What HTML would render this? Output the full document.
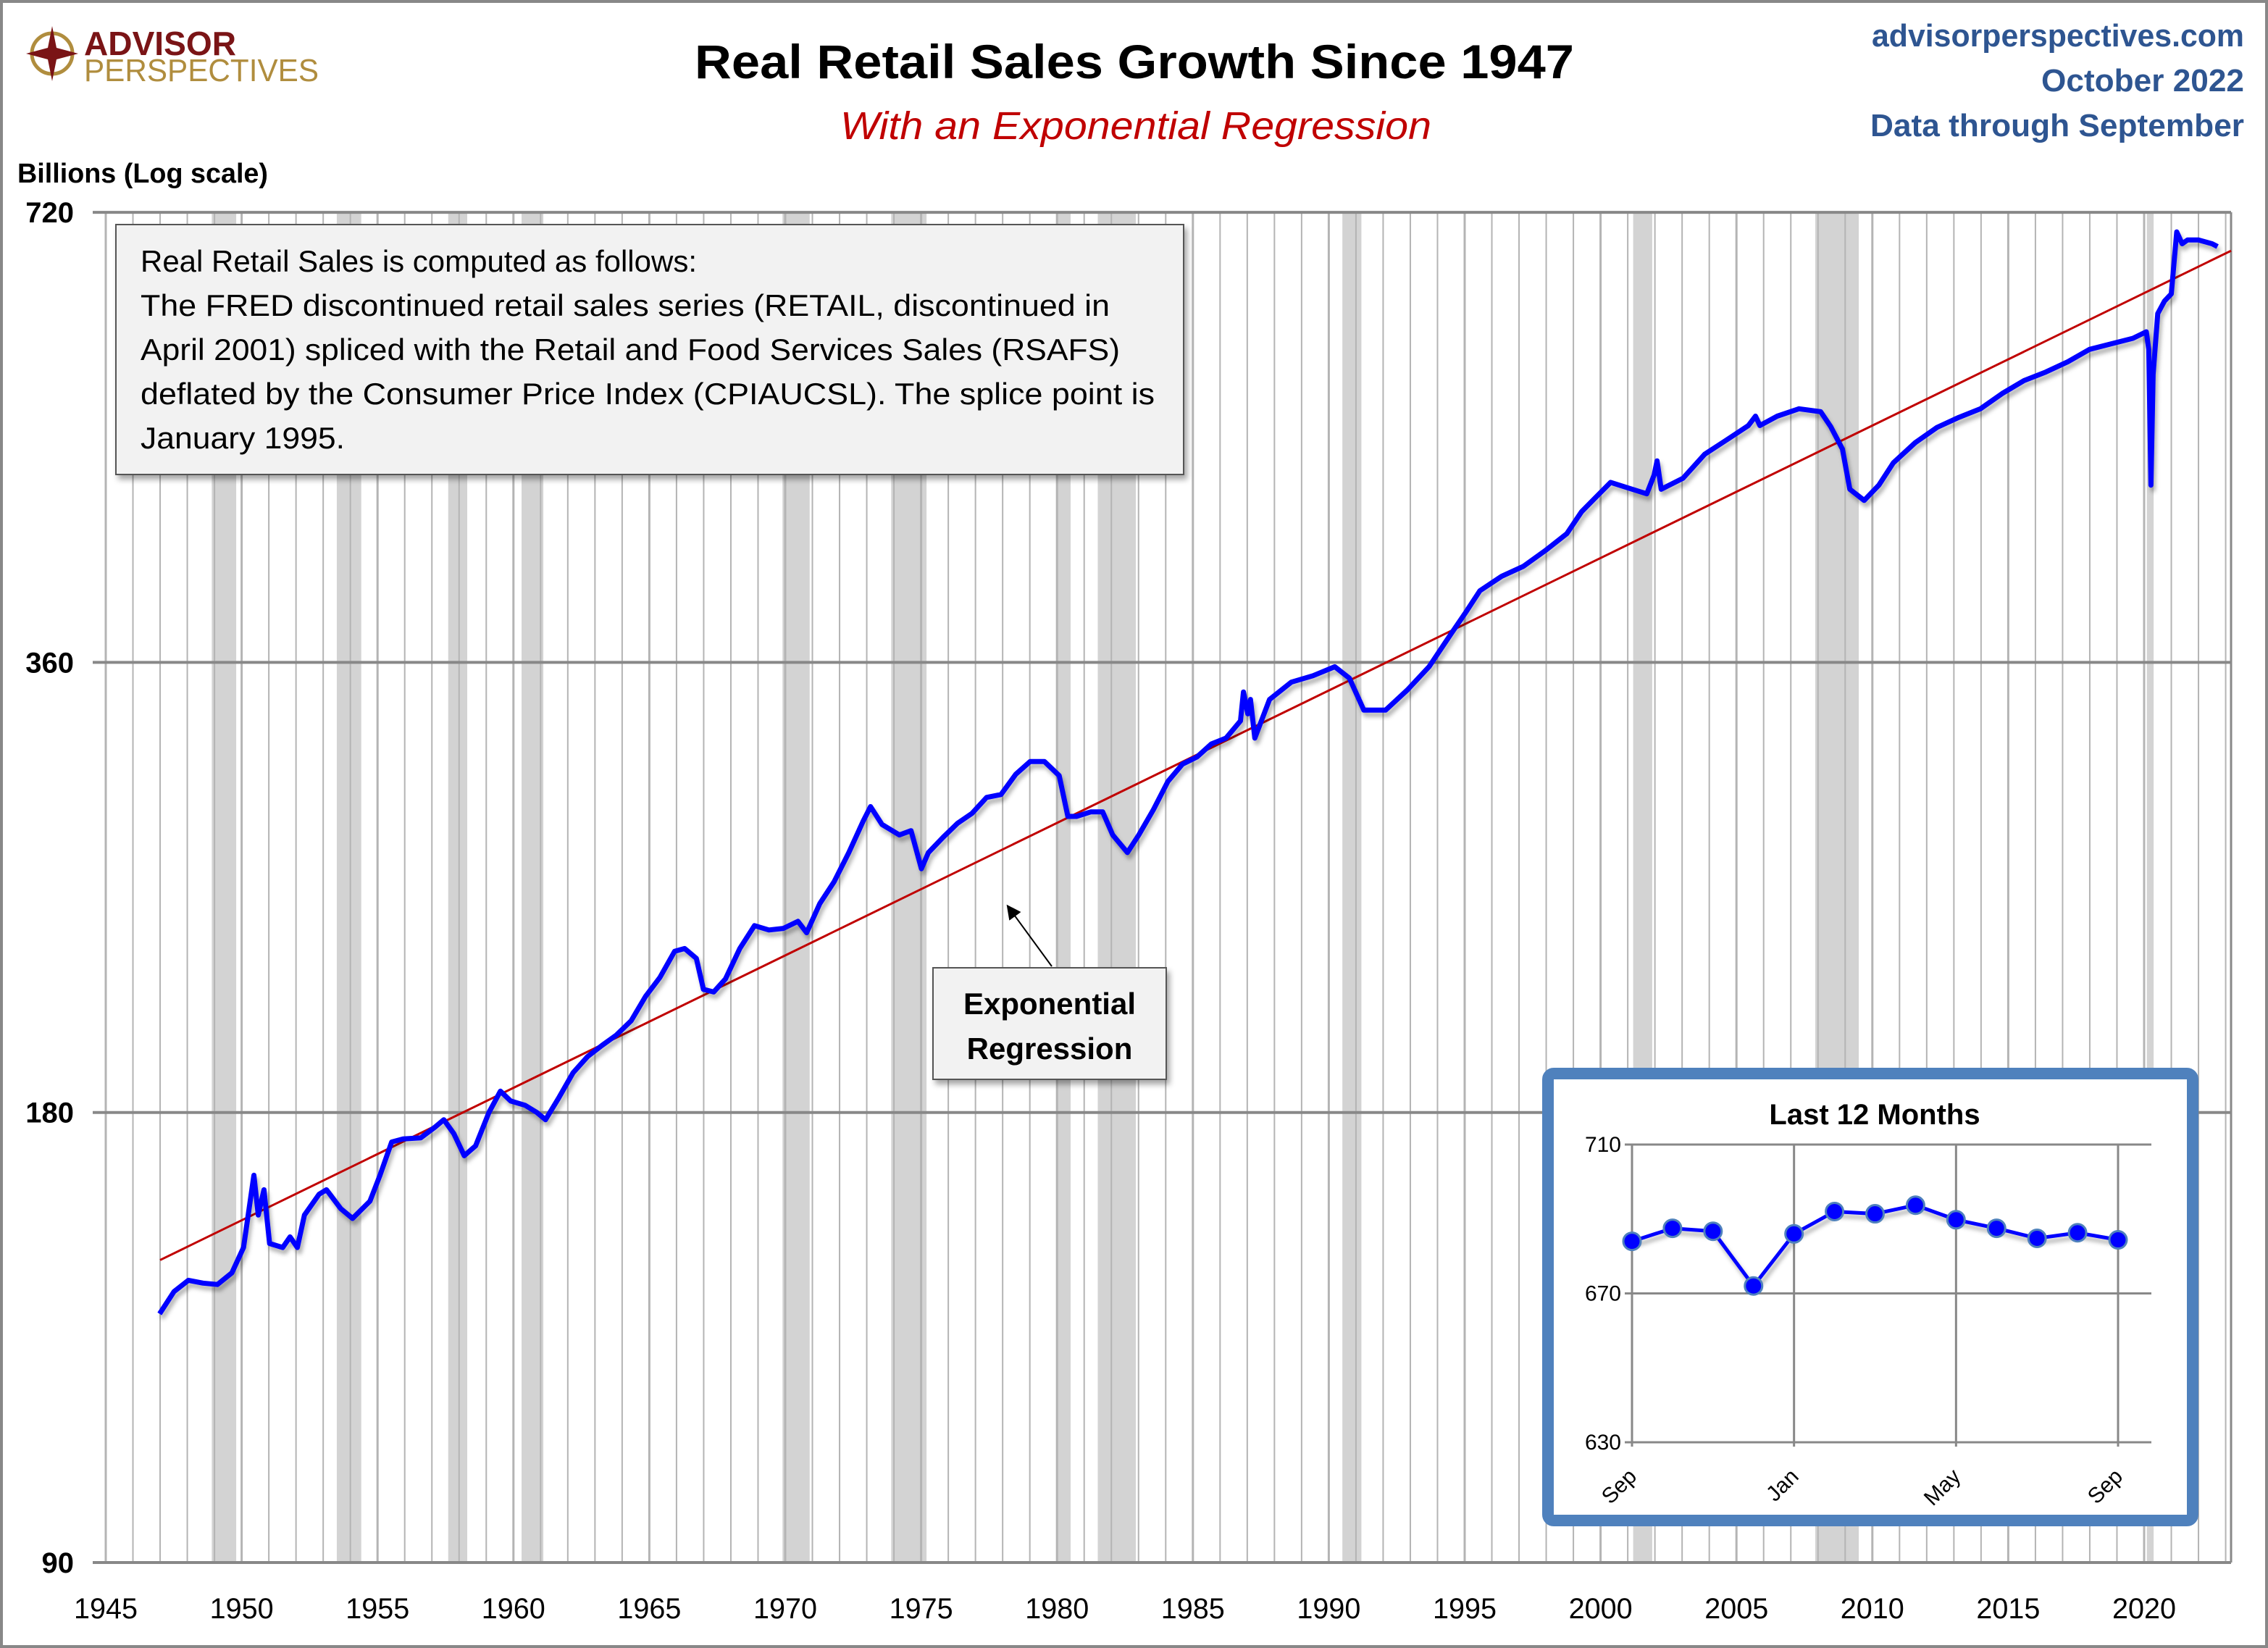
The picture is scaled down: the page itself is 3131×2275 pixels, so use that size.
<!DOCTYPE html>
<html><head><meta charset="utf-8"><style>
body{margin:0;background:#fff}
svg{display:block;font-family:"Liberation Sans",sans-serif}
</style></head><body>
<svg id="chart" width="3131" height="2275" viewBox="0 0 3131 2275" xmlns="http://www.w3.org/2000/svg">
<defs>
<filter id="sh" x="-5%" y="-5%" width="110%" height="115%"><feDropShadow dx="4" dy="6" stdDeviation="4" flood-color="#000" flood-opacity="0.35"/></filter>
<filter id="lsh" x="-5%" y="-5%" width="110%" height="110%"><feDropShadow dx="3" dy="6" stdDeviation="3" flood-color="#000" flood-opacity="0.3"/></filter>
<clipPath id="pc"><rect x="128" y="290" width="2952" height="1870"/></clipPath>
<marker id="ah" markerWidth="20" markerHeight="20" refX="16" refY="10" orient="auto" markerUnits="userSpaceOnUse" viewBox="0 0 20 20"><path d="M0,0 L20,10 L0,20 z" fill="#000"/></marker>
</defs>
<rect x="2" y="2" width="3127" height="2271" fill="#fff" stroke="#888" stroke-width="4"/>
<g>
<circle cx="72" cy="74" r="28" fill="none" stroke="#b08d3e" stroke-width="5"/>
<path d="M72,36 L78,66 L108,74 L78,82 L72,112 L66,82 L36,74 L66,66 Z" fill="#7a1416"/>
<text x="116" y="76" font-size="46" font-weight="bold" fill="#7a1416" textLength="210" lengthAdjust="spacingAndGlyphs">ADVISOR</text>
<text x="116" y="112" font-size="44" fill="#b08d3e" textLength="324" lengthAdjust="spacingAndGlyphs">PERSPECTIVES</text>
</g>
<text x="1566" y="108" text-anchor="middle" font-size="66" font-weight="bold" fill="#000" textLength="1214" lengthAdjust="spacingAndGlyphs">Real Retail Sales Growth Since 1947</text>
<text x="1568" y="192" text-anchor="middle" font-size="54" font-style="italic" fill="#c00000" textLength="816" lengthAdjust="spacingAndGlyphs">With an Exponential Regression</text>
<g font-weight="bold" fill="#2e5591" font-size="44" text-anchor="end">
<text x="3098" y="64" textLength="514" lengthAdjust="spacingAndGlyphs">advisorperspectives.com</text>
<text x="3098" y="126" textLength="280" lengthAdjust="spacingAndGlyphs">October 2022</text>
<text x="3098" y="188" textLength="516" lengthAdjust="spacingAndGlyphs">Data through September</text>
</g>
<text x="24" y="252" font-size="38" font-weight="bold" textLength="346" lengthAdjust="spacingAndGlyphs">Billions (Log scale)</text>
<g id="main"></g>
<g>
<rect x="160" y="310" width="1474" height="345" fill="#f2f2f2" stroke="#555" stroke-width="2" filter="url(#sh)"/>
<g font-size="42" fill="#000">
<text x="194" y="375" textLength="768" lengthAdjust="spacingAndGlyphs">Real Retail Sales is computed as follows:</text>
<text x="194" y="436" textLength="1338" lengthAdjust="spacingAndGlyphs">The FRED discontinued retail sales series (RETAIL, discontinued in</text>
<text x="194" y="497" textLength="1352" lengthAdjust="spacingAndGlyphs">April 2001) spliced with the Retail and Food Services Sales (RSAFS)</text>
<text x="194" y="558" textLength="1400" lengthAdjust="spacingAndGlyphs">deflated by the Consumer Price Index (CPIAUCSL). The splice point is</text>
<text x="194" y="619" textLength="282" lengthAdjust="spacingAndGlyphs">January 1995.</text>
</g></g>
<g>
<line x1="1452" y1="1334" x2="1392" y2="1252" stroke="#000" stroke-width="2" marker-end="url(#ah)"/>
<rect x="1288" y="1336" width="322" height="154" fill="#f2f2f2" stroke="#555" stroke-width="2" filter="url(#sh)"/>
<text x="1449" y="1400" text-anchor="middle" font-size="42" font-weight="bold">Exponential</text>
<text x="1449" y="1462" text-anchor="middle" font-size="42" font-weight="bold">Regression</text>
</g>
<g id="inset"></g>
</svg>
<script>
const NS='http://www.w3.org/2000/svg';
// ---- main chart data ----
const yTicks=[720,360,180,90];
const xTickYears=[1945,1950,1955,1960,1965,1970,1975,1980,1985,1990,1995,2000,2005,2010,2015,2020];
const recessionStart=[1948.9,1953.5,1957.6,1960.3,1969.9,1973.9,1980.0,1981.5,1990.5,2001.2,2007.9,2020.1];
const recessionEnd=[1949.8,1954.4,1958.3,1961.1,1970.9,1975.2,1980.5,1982.9,1991.2,2001.9,2009.5,2020.35];
const salesYears=[1946.98,1947.51,1948.04,1948.58,1949.11,1949.64,1950.07,1950.45,1950.61,1950.82,1951.03,1951.51,1951.78,1952.05,1952.31,1952.85,1953.12,1953.65,1954.08,1954.72,1955.09,1955.52,1955.94,1956.59,1957.12,1957.44,1957.81,1958.19,1958.61,1959.10,1959.52,1959.90,1960.43,1960.86,1961.18,1961.66,1962.19,1962.73,1963.26,1963.79,1964.33,1964.86,1965.39,1965.93,1966.30,1966.73,1966.99,1967.37,1967.80,1968.33,1968.87,1969.40,1969.93,1970.47,1970.79,1971.27,1971.80,1972.34,1972.87,1973.14,1973.56,1974.20,1974.63,1975.01,1975.27,1975.81,1976.34,1976.87,1977.41,1977.94,1978.48,1979.01,1979.54,1980.08,1980.40,1980.72,1981.25,1981.68,1982.05,1982.59,1983.01,1983.55,1984.08,1984.62,1985.15,1985.68,1986.22,1986.75,1986.86,1987.02,1987.12,1987.28,1987.82,1988.62,1989.42,1990.22,1990.76,1991.29,1992.09,1992.89,1993.69,1994.49,1995.03,1995.56,1996.36,1997.16,1997.96,1998.76,1999.30,1999.83,2000.37,2001.17,2001.70,2001.97,2002.08,2002.23,2003.03,2003.83,2004.63,2005.44,2005.70,2005.86,2006.50,2007.30,2008.10,2008.47,2008.90,2009.17,2009.70,2010.24,2010.77,2011.58,2012.38,2013.18,2013.98,2014.78,2015.58,2016.38,2017.19,2017.99,2018.79,2019.59,2020.08,2020.17,2020.25,2020.33,2020.5,2020.75,2021.0,2021.2,2021.4,2021.6,2022.0,2022.5,2022.7];
const salesValues=[132,136.6,139,138.4,138.1,140.6,146.2,163.4,153.7,159.8,147.1,146.2,148.6,146.2,153.7,158.7,159.8,155.2,152.9,157,163.4,172,172.8,173.1,176,178,174.2,168.4,171,180,186,183.2,182,180,178,184,191.3,196.2,199.6,202.8,207.3,215.2,221.6,230.7,231.7,228.2,217.6,216.7,221.1,231.7,240,238.4,239,241.6,237.4,248.3,256.8,268.6,282,288.3,280.5,276,277.8,262,268.6,275,281,285.3,292.4,293.7,303,309,309,302.4,284,284,286,286,276,268.6,276,287,299.7,307.8,311.2,317.5,320.4,329,344,332.6,340,320.4,340,349.2,352.7,357.6,351.3,334.5,334.5,345,357.6,376,388.6,402,411,417.4,427.6,439,454,464.3,475,470,466.7,480.4,491,470,478,496,507,518.5,526,518.5,526,532,529.6,517.5,500,470,462,473,489.5,505,517,525,532,544.7,555.6,563,572,583,588,593,599,583,473,561,616,628,635,698.6,686,690,690,686,683];
const regStartYear=1947, regStartValue=143.4, regGrowth=0.0204, regEndYear=2023.2;
// ---- inset data ----
const insetMonths=['Sep','Oct','Nov','Dec','Jan','Feb','Mar','Apr','May','Jun','Jul','Aug','Sep'];
const insetValues=[684,687.5,686.7,672,686,692,691.4,693.7,689.8,687.5,684.8,686.3,684.4];
const insetTicks=[710,670,630];
const insetLabelIdx=[0,4,8,12];

const X0=128,X1=3080,Y0=293,Y1=2157;
const xs=y=>146+(y-1945)*37.52;
const ys=v=>2157-Math.log2(v/90)*621.3;
const main=document.getElementById('main');
function el(tag,attrs,parent){const e=document.createElementNS(NS,tag);for(const k in attrs)e.setAttribute(k,attrs[k]);parent.appendChild(e);return e;}
recessionStart.forEach((s,i)=>{
  const r=el('rect',{x:xs(s),y:Y0,width:xs(recessionEnd[i])-xs(s),height:Y1-Y0,fill:'#d3d3d3'},main);
  
  
});
for(let y=1945;y<=2023;y++){
  const l=el('line',{x1:xs(y),x2:xs(y),y1:Y0,y2:Y1,stroke:'#b4b4b4','stroke-width':y%5===0?3:2},main);
  
  
}
el('line',{x1:X1,x2:X1,y1:Y0,y2:Y1,stroke:'#888','stroke-width':3},main);
yTicks.forEach(v=>{
  const l=el('line',{x1:X0,x2:X1,y1:ys(v),y2:ys(v),stroke:'#888','stroke-width':4},main);
  
  
  const t=el('text',{x:102,y:ys(v)+14,'text-anchor':'end','font-size':40,'font-weight':'bold'},main);
  t.textContent=v;
  
  
});
xTickYears.forEach(y=>{
  const t=el('text',{x:xs(y),y:2234,'text-anchor':'middle','font-size':40,textLength:88,lengthAdjust:'spacingAndGlyphs'},main);
  t.textContent=y;
  
  
});
const reg=el('line',{x1:xs(regStartYear),y1:ys(regStartValue),x2:xs(regEndYear),y2:ys(regStartValue*Math.exp(regGrowth*(regEndYear-regStartYear))),stroke:'#c00000','stroke-width':3},main);


let d='';salesYears.forEach((y,i)=>{d+=(i?'L':'M')+xs(y).toFixed(1)+','+ys(salesValues[i]).toFixed(1);});
const sl=el('path',{d:d,fill:'none',stroke:'#0000ff','stroke-width':7,'stroke-linejoin':'round',filter:'url(#lsh)','clip-path':'url(#pc)'},main);


const ins=document.getElementById('inset');
const ib=el('rect',{x:2137,y:1482,width:890,height:617,rx:8,fill:'#fff',stroke:'#4f81bd','stroke-width':16},ins);


const it=el('text',{x:2588,y:1552,'text-anchor':'middle','font-size':40,'font-weight':'bold'},ins);
it.textContent='Last 12 Months';


const IX0=2253,IX1=2970,IYT=1580,IYB=1991;
const ixs=i=>IX0+i*(2924-IX0)/12;
const iys=v=>IYB-(v-630)/80*(IYB-IYT);
insetTicks.forEach(v=>{
  const l=el('line',{x1:IX0-10,x2:IX1,y1:iys(v),y2:iys(v),stroke:'#888','stroke-width':3},ins);
  
  
  const t=el('text',{x:2238,y:iys(v)+10,'text-anchor':'end','font-size':30},ins);
  t.textContent=v;
  
  
});
insetLabelIdx.forEach(i=>{
  const l=el('line',{x1:ixs(i),x2:ixs(i),y1:IYT,y2:IYB+6,stroke:'#888','stroke-width':3},ins);
  
  
  const t=el('text',{x:ixs(i)+8,y:2040,'text-anchor':'end','font-size':30,transform:`rotate(-45 ${ixs(i)+8} 2040)`},ins);
  t.textContent=insetMonths[i];
  
  
});
let id='';insetValues.forEach((v,i)=>{id+=(i?'L':'M')+ixs(i)+','+iys(v);});
const il=el('path',{d:id,fill:'none',stroke:'#0000ff','stroke-width':5,filter:'url(#lsh)'},ins);


insetValues.forEach((v,i)=>{
  const c=el('circle',{cx:ixs(i),cy:iys(v),r:12,fill:'#0000ff',stroke:'#4f81bd','stroke-width':3},ins);
  
  
});
</script>
</body></html>
